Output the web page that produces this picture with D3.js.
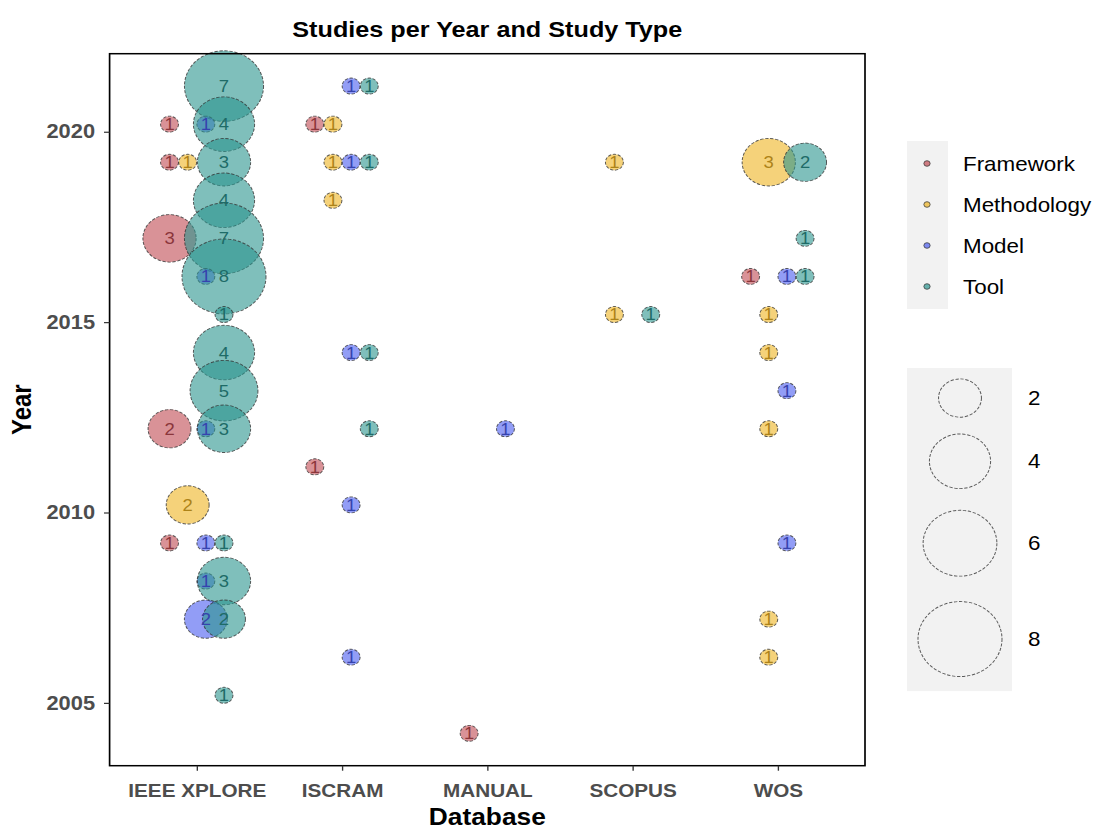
<!DOCTYPE html>
<html>
<head>
<meta charset="utf-8">
<script src="https://cdn.jsdelivr.net/npm/d3@7"></script>
<style>
  html, body { margin: 0; padding: 0; background: #fff; }
  svg { display: block; }
</style>
</head>
<body>
<svg id="chart"></svg>
<script>
// categories
const databases = ['IEEE XPLORE', 'ISCRAM', 'MANUAL', 'SCOPUS', 'WOS'];
const studyTypes = ['Framework', 'Methodology', 'Model', 'Tool'];
const yearTicks = [2005, 2010, 2015, 2020];
const sizeBreaks = [2, 4, 6, 8];

// [year, type, number of studies] per database
const ieeeRows = [
  [2021, 'Tool', 7],
  [2020, 'Framework', 1], [2020, 'Model', 1], [2020, 'Tool', 4],
  [2019, 'Framework', 1], [2019, 'Methodology', 1], [2019, 'Tool', 3],
  [2018, 'Tool', 4],
  [2017, 'Framework', 3], [2017, 'Tool', 7],
  [2016, 'Model', 1], [2016, 'Tool', 8],
  [2015, 'Tool', 1],
  [2014, 'Tool', 4],
  [2013, 'Tool', 5],
  [2012, 'Framework', 2], [2012, 'Model', 1], [2012, 'Tool', 3],
  [2010, 'Methodology', 2],
  [2009, 'Framework', 1], [2009, 'Model', 1], [2009, 'Tool', 1],
  [2008, 'Model', 1], [2008, 'Tool', 3],
  [2007, 'Model', 2], [2007, 'Tool', 2],
  [2005, 'Tool', 1]
];
const iscramRows = [
  [2021, 'Model', 1], [2021, 'Tool', 1],
  [2020, 'Framework', 1], [2020, 'Methodology', 1],
  [2019, 'Methodology', 1], [2019, 'Model', 1], [2019, 'Tool', 1],
  [2018, 'Methodology', 1],
  [2014, 'Model', 1], [2014, 'Tool', 1],
  [2012, 'Tool', 1],
  [2011, 'Framework', 1],
  [2010, 'Model', 1],
  [2006, 'Model', 1]
];
const manualRows = [
  [2012, 'Model', 1],
  [2004, 'Framework', 1]
];
const scopusRows = [
  [2019, 'Methodology', 1],
  [2015, 'Methodology', 1], [2015, 'Tool', 1]
];
const wosRows = [
  [2019, 'Methodology', 3], [2019, 'Tool', 2],
  [2017, 'Tool', 1],
  [2016, 'Framework', 1], [2016, 'Model', 1], [2016, 'Tool', 1],
  [2015, 'Methodology', 1],
  [2014, 'Methodology', 1],
  [2013, 'Model', 1],
  [2012, 'Methodology', 1],
  [2009, 'Model', 1],
  [2007, 'Methodology', 1],
  [2006, 'Methodology', 1]
];

const rowsByDb = {
  'IEEE XPLORE': ieeeRows, 'ISCRAM': iscramRows, 'MANUAL': manualRows,
  'SCOPUS': scopusRows, 'WOS': wosRows
};

// the reference image is stretched sideways, so draw in narrower units and stretch
const SX = 1.12;
const W = 1097 / SX, H = 829;
const yNudge = 0.2;

const panel = { left: 109.6 / SX, right: 865 / SX, top: 53.7, bottom: 765.7 };

const color = d3.scaleOrdinal()
  .domain(studyTypes)
  .range(['#c04a52', '#eeb421', '#4a5cf0', '#2a948e']);

const data = [];
databases.forEach(function (db) {
  rowsByDb[db].forEach(function (r) {
    data.push({ db: db, year: r[0], type: r[1], n: r[2] });
  });
});

const svg = d3.select('#chart')
  .attr('width', 1097)
  .attr('height', H)
  .attr('viewBox', '0 0 ' + W + ' ' + H)
  .attr('preserveAspectRatio', 'none')
  .style('font-family', '"Liberation Sans", Arial, sans-serif');

const x = d3.scalePoint()
  .domain(databases)
  .range([panel.left, panel.right])
  .padding(0.6);

const yExt = d3.extent(data, d => d.year + yNudge);
const ySpan = yExt[1] - yExt[0];
const y = d3.scaleLinear()
  .domain([yExt[0] - 0.05 * ySpan, yExt[1] + 0.05 * ySpan])
  .range([panel.bottom, panel.top]);

// ggplot-like area scale
const sizeNorm = d3.scaleLinear().domain(d3.extent(data, d => d.n)).range([0, 1]);
const radScale = d3.scaleLinear().domain([0, 1]).range([8, 37.5]);
const radius = v => radScale(Math.sqrt(Math.max(0, sizeNorm(v))));

// dodge by study type within each database
const dodgeW = 0.5 * x.step();
const typesIn = {};
databases.forEach(function (db) {
  typesIn[db] = studyTypes.filter(t => data.some(d => d.db === db && d.type === t));
});
function px(d) {
  const list = typesIn[d.db];
  const k = list.length;
  const i = list.indexOf(d.type);
  return x(d.db) + (i - (k - 1) / 2) * (dodgeW / k);
}

// title
svg.append('text')
  .attr('x', (panel.left + panel.right) / 2)
  .attr('y', 37)
  .attr('text-anchor', 'middle')
  .attr('textLength', 390 / SX)
  .attr('lengthAdjust', 'spacingAndGlyphs')
  .style('font-weight', 'bold')
  .style('font-size', '23px')
  .style('fill', '#000')
  .text('Studies per Year and Study Type');

// bubbles
const plot = svg.append('g');
plot.selectAll('circle.bubble')
  .data(data)
  .enter().append('circle')
  .attr('class', 'bubble')
  .attr('cx', px)
  .attr('cy', d => y(d.year + yNudge))
  .attr('r', d => radius(d.n))
  .style('fill', d => color(d.type))
  .style('fill-opacity', 0.6)
  .style('stroke', '#333')
  .style('stroke-opacity', 0.8)
  .style('stroke-width', 0.9)
  .style('stroke-dasharray', '3,1.5');

plot.selectAll('text.lab')
  .data(data)
  .enter().append('text')
  .attr('class', 'lab')
  .attr('x', px)
  .attr('y', d => y(d.year + yNudge))
  .attr('dy', '0.36em')
  .attr('text-anchor', 'middle')
  .style('font-size', '16.5px')
  .style('fill', d => d3.color(color(d.type)).darker(0.9))
  .text(d => d.n);

// panel border
svg.append('rect')
  .attr('x', panel.left)
  .attr('y', panel.top)
  .attr('width', panel.right - panel.left)
  .attr('height', panel.bottom - panel.top)
  .style('fill', 'none')
  .style('stroke', '#000')
  .style('stroke-width', 1.5);

// axes
const yAxis = svg.append('g')
  .attr('transform', 'translate(' + panel.left + ',0)')
  .call(d3.axisLeft(y).tickValues(yearTicks).tickFormat(d3.format('d')).tickSize(5).tickPadding(8));
const xAxis = svg.append('g')
  .attr('transform', 'translate(0,' + panel.bottom + ')')
  .call(d3.axisBottom(x).tickSize(5).tickPadding(13));
[xAxis, yAxis].forEach(function (g) {
  g.select('.domain').remove();
  g.selectAll('.tick line').style('stroke', '#333').style('stroke-width', 1.2);
  g.selectAll('.tick text')
    .style('font-family', '"Liberation Sans", Arial, sans-serif')
    .style('font-size', '18.5px')
    .style('font-weight', 'bold')
    .style('fill', '#4d4d4d');
});
yAxis.selectAll('.tick text').style('font-size', '19.5px');

svg.append('text')
  .attr('x', (panel.left + panel.right) / 2)
  .attr('y', 825)
  .attr('text-anchor', 'middle')
  .style('font-weight', 'bold')
  .style('font-size', '23.5px')
  .text('Database');

svg.append('text')
  .attr('transform', 'translate(' + (31 / SX) + ',' + ((panel.top + panel.bottom) / 2) + ') rotate(-90)')
  .attr('text-anchor', 'middle')
  .style('font-weight', 'bold')
  .style('font-size', '24px')
  .text('Year');

// colour legend
const colLeg = svg.append('g');
const keyH = 41;
colLeg.append('rect')
  .attr('x', 907 / SX)
  .attr('y', 141)
  .attr('width', 41 / SX)
  .attr('height', studyTypes.length * keyH + 4)
  .style('fill', '#f2f2f2');
const colItem = colLeg.selectAll('g.item')
  .data(studyTypes)
  .enter().append('g')
  .attr('class', 'item')
  .attr('transform', (d, i) => 'translate(0,' + (143 + keyH * (i + 0.5)) + ')');
colItem.append('circle')
  .attr('cx', 927 / SX)
  .attr('r', 2.8)
  .style('fill', d => color(d))
  .style('fill-opacity', 0.7)
  .style('stroke', '#333')
  .style('stroke-width', 0.7);
colItem.append('text')
  .attr('x', 963 / SX)
  .attr('dy', '0.35em')
  .style('font-size', '20px')
  .style('fill', '#000')
  .text(d => d);

// size legend
const sizeLeg = svg.append('g');
const sizeKeys = sizeBreaks.map(v => ({ v: v, r: radius(v), h: 2 * radius(v) / 0.735 }));
const sizeTop = 368;
let acc = sizeTop + 4;
sizeKeys.forEach(function (k) { k.cy = acc + k.h / 2; acc += k.h; });
sizeLeg.append('rect')
  .attr('x', 907 / SX)
  .attr('y', sizeTop)
  .attr('width', 105 / SX)
  .attr('height', acc + 1 - sizeTop)
  .style('fill', '#f2f2f2');
sizeLeg.selectAll('circle')
  .data(sizeKeys)
  .enter().append('circle')
  .attr('cx', 960 / SX)
  .attr('cy', d => d.cy)
  .attr('r', d => d.r)
  .style('fill', 'none')
  .style('stroke', '#333')
  .style('stroke-opacity', 0.8)
  .style('stroke-width', 0.9)
  .style('stroke-dasharray', '3,1.5');
sizeLeg.selectAll('text')
  .data(sizeKeys)
  .enter().append('text')
  .attr('x', 1028 / SX)
  .attr('y', d => d.cy)
  .attr('dy', '0.35em')
  .style('font-size', '20px')
  .style('fill', '#000')
  .text(d => d.v);
</script>
</body>
</html>
